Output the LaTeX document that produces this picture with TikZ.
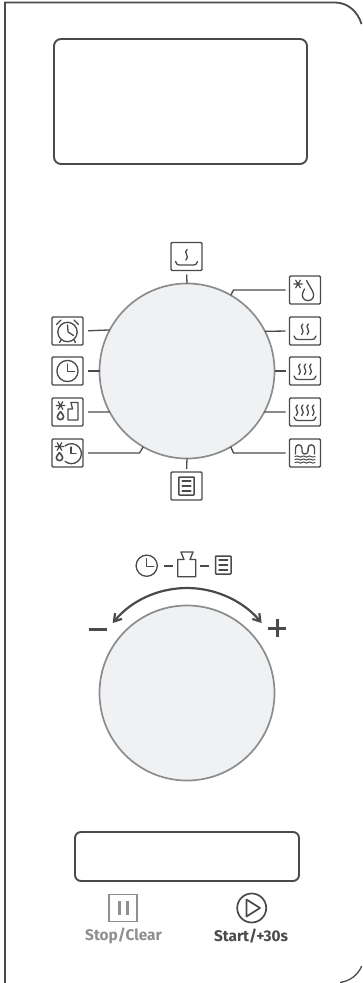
\documentclass[tikz,border=0pt]{standalone}
\usepackage{fontspec}
\setmainfont{Fira Sans}
\usetikzlibrary{arrows.meta}
\definecolor{ink}{HTML}{4A4A4C}
\definecolor{dialline}{HTML}{8B8C8E}
\definecolor{dialfill}{HTML}{F0F1F3}
\definecolor{soft}{HTML}{8E8F91}
\tikzset{
  x=1pt,y=-1pt,
  frameline/.style={draw=ink,line width=1.8pt},
  screen/.style={draw=ink,line width=1.9pt,rounded corners=7pt,inner sep=0,outer sep=0},
  iconbox/.style={draw=ink,line width=1.4pt,rounded corners=1.2pt,minimum width=31pt,minimum height=28pt,inner sep=0,outer sep=0},
  dialcircle/.style={circle,draw=dialline,fill=dialfill,line width=1.7pt,minimum size=175pt,inner sep=0,outer sep=0},
  conn/.style={draw=ink,line width=1.3pt},
  gl/.style={draw=ink,line width=1.3pt,line join=round,line cap=round},
  puff/.pic={\draw[gl] (0.6,-7) .. controls (-4,-4) and (4,-.5) .. (-0.6,3.5);},
  tray/.pic={\draw[gl] (-11,5) .. controls (-10,8) and (-9,8.5) .. (-7,8.5) -- (7,8.5) .. controls (9,8.5) and (10,8) .. (11,5);},
  flake/.pic={\draw[gl,line width=1.2pt] (-4.2,0)--(4.2,0) (-2.3,-3.8)--(2.3,3.8) (-2.3,3.8)--(2.3,-3.8);},
  smalldrop/.pic={\draw[gl,line width=1.6pt] (0,0) .. controls (-.8,2) and (-3.2,3.2) .. (-3.2,5) arc[start angle=180,end angle=0,radius=3.2] .. controls (3.2,3.2) and (.8,2) .. (0,0);},
  docglyph/.pic={\draw[gl,line width=1.5pt,rounded corners=.6pt] (-7.7,-9) rectangle (7.7,9);
    \draw[gl,line width=1.5pt] (-4.3,-5)--(4.3,-5) (-4.3,0)--(4.3,0) (-4.3,5)--(4.3,5);},
  clockglyph/.pic={\draw[gl] (0,0) circle[radius=10.6]; \draw[gl] (0,-7)--(0,.5)--(7,.5);},
  alarmglyph/.pic={\draw[gl] (0,1) circle[radius=9.7]; \draw[gl] (0,-6)--(.6,1)--(6,4.5);
    \draw[gl,line width=1.4pt] (-11,-6.5)--(-6.5,-11) (11,-6.5)--(6.5,-11) (-6.5,9)--(-8,11.5) (6.5,9)--(8,11.5);},
  bowlone/.pic={\pic at (0,0) {tray}; \pic at (0,0) {puff};},
  bowltwo/.pic={\pic at (0,0) {tray}; \pic at (-2.8,0) {puff}; \pic at (2.8,0) {puff};},
  bowlthree/.pic={\pic at (0,0) {tray}; \pic at (-5.5,0) {puff}; \pic at (0,0) {puff}; \pic at (5.5,0) {puff};},
  bowlfour/.pic={\pic at (0,0) {tray}; \pic at (-8.2,0) {puff}; \pic at (-2.7,0) {puff}; \pic at (2.7,0) {puff}; \pic at (8.2,0) {puff};},
  snowdrop/.pic={\pic at (-7,-6) {flake};
    \draw[gl] (1.5,-9.5) -- (7.5,1) .. controls (10,5) and (8.5,10.7) .. (3,10.7) .. controls (-2.5,10.7) and (-4,5) .. (-1.5,1) -- (-.5,-1);},
  snowweight/.pic={\pic at (-7,-6.5) {flake}; \pic at (-7,-.5) {smalldrop};
    \draw[gl] (.5,8) -- (.5,-3) -- (5,-3) -- (3.5,-9.5) -- (10.5,-9.5) -- (10.5,8) -- cycle;},
  snowclock/.pic={\pic at (-8,-6.5) {flake}; \pic at (-8,-.5) {smalldrop};
    \draw[gl] (-2.5,-7) arc[start angle=-130,end angle=130,radius=10] ;
    \draw[gl] (3.5,-6)--(3.5,.5)--(8.5,.5);},
  wavegrill/.pic={\draw[gl] (-9.5,1) -- (-9.5,-5) arc[start angle=180,end angle=360,radius=3.2] -- (-3.1,-2) arc[start angle=180,end angle=0,radius=3.1] -- (3.1,-5) arc[start angle=180,end angle=360,radius=3.2] -- (9.5,1);
    \draw[gl,line width=1pt] (-10,3.5) .. controls (-7,1.5) and (-5,5.5) .. (-3,3.5) .. controls (-1,1.5) and (1,5.5) .. (3,3.5) .. controls (5,1.5) and (7,5.5) .. (10,3.5);
    \draw[gl,line width=1pt] (-10,6.5) .. controls (-7,4.5) and (-5,8.5) .. (-3,6.5) .. controls (-1,4.5) and (1,8.5) .. (3,6.5) .. controls (5,4.5) and (7,8.5) .. (10,6.5);
    \draw[gl,line width=1pt] (-10,9.5) .. controls (-7,7.5) and (-5,11.5) .. (-3,9.5) .. controls (-1,7.5) and (1,11.5) .. (3,9.5) .. controls (5,7.5) and (7,11.5) .. (10,9.5);},
  labeltext/.style={font=\bfseries\fontsize{15.4}{17}\selectfont,inner sep=0},
}
\begin{document}
\begin{tikzpicture}
\useasboundingbox (0,0) rectangle (362,983);
\fill[white] (0,0) rectangle (362,983);
% outer frame
\draw[frameline] (5,983) -- (5,2.5) -- (335,2.5) .. controls (348,2.5) and (358,12) .. (361.5,24);
\draw[draw=ink,line width=1.3pt] (361.7,966) .. controls (358,975) and (350,981) .. (340,982.5);
% screens
\node[screen,minimum width=253pt,minimum height=125pt] (display) at (180.5,101.5) {};
\node[screen,rounded corners=6pt,minimum width=224pt,minimum height=49pt] (bar) at (187,856.5) {};
% dial and knob
\node[dialcircle] (dial) at (187,371) {};
\node[dialcircle] (knob) at (187,693) {};
% icon boxes
\node[iconbox] (btop) at (186.5,256.5) {};
\node[iconbox] (bbot) at (186.5,486) {};
\node[iconbox] (l1) at (67.5,331) {};
\node[iconbox] (l2) at (67.5,371) {};
\node[iconbox] (l3) at (67.5,412) {};
\node[iconbox] (l4) at (67.5,453) {};
\node[iconbox] (r0) at (305,290) {};
\node[iconbox] (r1) at (305,331) {};
\node[iconbox] (r2) at (305,371) {};
\node[iconbox] (r3) at (305,412) {};
\node[iconbox] (r4) at (305,453) {};
% connectors
\draw[conn,shorten <=4pt] (btop.south) -- (dial.90);
\draw[conn,shorten >=3pt] (dial.270) -- (bbot.north);
\draw[conn,shorten <=5pt] (l1.east) -- (dial.152.6);
\draw[conn,shorten <=5pt] (l2.east) -- (dial.180);
\draw[conn,shorten <=5pt] (l3.east) -- (dial.208.1);
\draw[conn,shorten <=5pt] (l4.east) -- ++(56.5,0) -- (dial.240);
\draw[conn,shorten <=4pt] (r0.west) -- ++(-56,0) -- (dial.60);
\draw[conn,shorten <=4pt] (r1.west) -- (dial.27.4);
\draw[conn,shorten <=4pt] (r2.west) -- (dial.0);
\draw[conn,shorten <=4pt] (r3.west) -- (dial.-28.1);
\draw[conn,shorten <=4pt] (r4.west) -- ++(-56,0) -- (dial.-60);
% icons
\pic at (btop) {bowlone};
\pic at (bbot) {docglyph};
\pic at (l1) {alarmglyph};
\pic at (l2) {clockglyph};
\pic at (l3) {snowweight};
\pic at (l4) {snowclock};
\pic at (r0) {snowdrop};
\pic at (r1) {bowltwo};
\pic at (r2) {bowlthree};
\pic at (r3) {bowlfour};
\pic at (r4) {wavegrill};
% knob legend
\pic at (146.7,565.7) {clockglyph};
\draw[draw=ink,line width=1.6pt] (164,565.7)--(173,565.7) (200,565.7)--(209,565.7);
\draw[gl] (177.7,576.7) -- (177.7,559.5) -- (184,559.5) -- (181,552) -- (193,552) -- (190,559.5) -- (195.7,559.5) -- (195.7,576.7) -- cycle;
\pic at (223.3,565) {docglyph};
% knob arc
\coordinate (arcl) at (112.7,623);
\coordinate (arcr) at (261.7,623);
\draw[draw=ink,line width=2.2pt,{Straight Barb[length=7pt,width=9pt]}-{Straight Barb[length=7pt,width=9pt]}] (arcl) arc[start angle=219.7,end angle=320.3,radius=96.8];
\draw[draw=ink,line width=3pt] (89,629)--(107,629);
\draw[draw=ink,line width=3pt] (268,628)--(286,628) (277,619)--(277,637);
% stop / start
\node[draw=soft,line width=1.9pt,minimum width=28pt,minimum height=27pt,inner sep=0,outer sep=0] (stop) at (123.3,908) {};
\draw[draw=soft,line width=3pt] (119,901) -- (119,915) (127.6,901) -- (127.6,915);
\node[labeltext,text=soft] (stoptext) at (123.5,936) {Stop/Clear};
\node[circle,draw=ink,line width=1.7pt,minimum size=29pt,inner sep=0,outer sep=0] (play) at (251.7,908) {};
\draw[draw=ink,line width=1.7pt,line join=round] (246.5,899.5) -- (260,908) -- (246.5,916.5) -- cycle;
\node[labeltext,text=ink] (starttext) at (251,936) {Start/+30s};
\end{tikzpicture}
\end{document}
